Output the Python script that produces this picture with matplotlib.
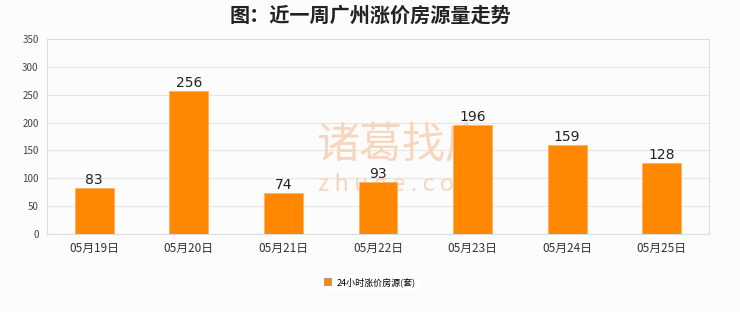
import matplotlib
matplotlib.use('Agg')
import matplotlib.pyplot as plt
from matplotlib.patches import Patch

plt.rcParams['font.family'] = ['Noto Sans CJK SC', 'DejaVu Sans']

# 数据
dates = ['05月19日', '05月20日', '05月21日', '05月22日', '05月23日', '05月24日', '05月25日']
counts = [83, 256, 74, 93, 196, 159, 128]
yticks = [0, 50, 100, 150, 200, 250, 300, 350]
series_name = '24小时涨价房源(套)'

bar_color = '#ff8800'
grid_color = '#e6e6e6'
bg = '#fcfcfc'
wm_color = '#f8d6bd'

fig = plt.figure(figsize=(7.4, 3.12), dpi=100, facecolor=bg)
ax = fig.add_axes([47 / 740, 1 - 234 / 312, 662 / 740, 195 / 312], facecolor=bg)

x = list(range(len(dates)))
ax.bar(x, counts, width=0.41, color=bar_color, edgecolor='#ffb060', linewidth=0.6, zorder=3)
for xi, v in zip(x, counts):
    ax.text(xi, v + 2, str(v), ha='center', va='bottom', fontsize=10, color='#222222',
            family='DejaVu Sans', zorder=4)

ax.set_xlim(-0.5, len(dates) - 0.5)
ax.set_ylim(0, 350)
ax.set_yticks(yticks)
ax.set_yticklabels([str(t) for t in yticks], fontsize=7, color='#444444')
ax.set_xticks(x)
ax.set_xticklabels(dates, fontsize=8.5, color='#333333')
ax.tick_params(axis='both', length=0, pad=6)
ax.yaxis.grid(True, color=grid_color, linewidth=0.8, zorder=0)
for s in ax.spines.values():
    s.set_color('#dddddd')
    s.set_linewidth(0.8)

# 水印
ax.text((402 - 47) / 662, (234 - 146) / 195, '诸葛找房', transform=ax.transAxes, fontsize=31,
        color=wm_color, ha='center', va='center', zorder=2)
ax.text((400 - 47) / 662, (234 - 184) / 195, 'z h u g e . c o m', transform=ax.transAxes,
        fontsize=17, color=wm_color, ha='center', va='center', zorder=2)

fig.text(0.5, 1 - 15 / 312, '图：近一周广州涨价房源量走势', ha='center', va='center',
         fontsize=14.5, fontweight='bold', color='#222222')

handle = Patch(facecolor=bar_color, edgecolor='#888888', linewidth=0.5)
fig.legend([handle], [series_name], loc='center', bbox_to_anchor=(0.5, 1 - 282 / 312),
           fontsize=6.5, frameon=True, facecolor='white', edgecolor='white',
           handlelength=0.8, handleheight=0.8, handletextpad=0.6, borderpad=0.4)

fig.savefig('out.png', dpi=100, facecolor=bg)
